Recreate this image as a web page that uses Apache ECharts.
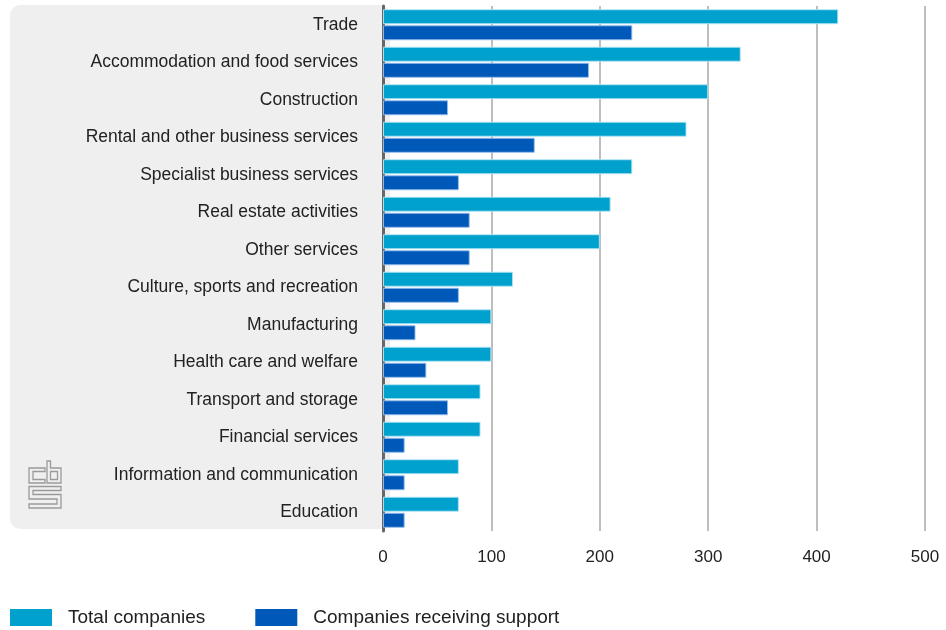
<!DOCTYPE html>
<html>
<head>
<meta charset="utf-8">
<script src="https://cdn.jsdelivr.net/npm/echarts@6/dist/echarts.min.js"></script>
<style>
  html, body { margin: 0; padding: 0; background: #ffffff; }
  #chart { width: 946px; height: 630px; }
</style>
</head>
<body>
<div id="chart"></div>
<script>
// Sectors, top to bottom
const categories = [
  'Trade',
  'Accommodation and food services',
  'Construction',
  'Rental and other business services',
  'Specialist business services',
  'Real estate activities',
  'Other services',
  'Culture, sports and recreation',
  'Manufacturing',
  'Health care and welfare',
  'Transport and storage',
  'Financial services',
  'Information and communication',
  'Education'
];
const totalCompanies = [420, 330, 300, 280, 230, 210, 200, 120, 100, 100, 90, 90, 70, 70];
const supportedCompanies = [230, 190, 60, 140, 70, 80, 80, 70, 30, 40, 60, 20, 20, 20];
const xTicks = [0, 100, 200, 300, 400, 500];

const FONT = '"Liberation Sans", Arial, sans-serif';
const CYAN = '#00a1cd';
const BLUE = '#0058b8';

const chart = echarts.init(document.getElementById('chart'), null, { renderer: 'canvas' });

// cbs logo drawn as outlined letter shapes
const logoStroke = { stroke: '#9a9a9a', lineWidth: 1.3, fill: null };
const logo = [
  // c
  { type: 'polygon', shape: { points: [[45, 468], [29, 468], [29, 483], [45, 483], [45, 479.5], [33, 479.5], [33, 471.5], [45, 471.5]] }, style: logoStroke },
  // b
  { type: 'polygon', shape: { points: [[47, 461], [50.5, 461], [50.5, 468], [61, 468], [61, 483], [47, 483]] }, style: logoStroke },
  { type: 'rect', shape: { x: 50.5, y: 471.5, width: 7, height: 8 }, style: logoStroke },
  // s
  { type: 'polygon', shape: { points: [[61, 486.5], [29, 486.5], [29, 499], [57, 499], [57, 504], [29, 504], [29, 508], [61, 508], [61, 494.5], [33, 494.5], [33, 490.5], [61, 490.5]] }, style: logoStroke }
];

chart.setOption({
  animation: false,
  textStyle: { fontFamily: FONT },
  graphic: [
    {
      type: 'rect',
      z: -10,
      shape: { x: 10, y: 5, width: 380, height: 524, r: 10 },
      style: { fill: '#efefef' },
      silent: true
    },
    { type: 'group', z: -5, children: logo, silent: true }
  ],
  grid: { left: 383, right: 21, top: 6, bottom: 99, containLabel: false },
  legend: {
    left: 10,
    bottom: 3,
    padding: 0,
    itemWidth: 42,
    itemHeight: 17,
    itemGap: 50,
    icon: 'rect',
    itemStyle: { borderWidth: 0 },
    textStyle: { fontFamily: FONT, fontSize: 19, color: '#222', padding: [0, 0, 0, 11] },
    data: ['Total companies', 'Companies receiving support']
  },
  xAxis: {
    type: 'value',
    min: 0,
    max: 500,
    interval: 100,
    axisLine: { show: false },
    axisTick: { show: false },
    axisLabel: {
      fontFamily: FONT, fontSize: 17, color: '#222', margin: 18,
      formatter: v => (xTicks.includes(v) ? String(v) : '')
    },
    splitLine: { show: true, lineStyle: { color: '#a8a8a8', width: 1.5 } }
  },
  yAxis: {
    type: 'category',
    inverse: true,
    data: categories,
    axisLine: { show: true, lineStyle: { color: '#666666', width: 3 } },
    axisTick: { show: false },
    axisLabel: { fontFamily: FONT, fontSize: 17.5, color: '#222', margin: 25 }
  },
  series: [
    {
      name: 'Total companies',
      type: 'bar',
      data: totalCompanies,
      barWidth: 15,
      barGap: '7%',
      itemStyle: { color: CYAN, borderColor: 'rgba(180,230,245,0.9)', borderWidth: 1 }
    },
    {
      name: 'Companies receiving support',
      type: 'bar',
      data: supportedCompanies,
      barWidth: 15,
      barGap: '7%',
      itemStyle: { color: BLUE, borderColor: 'rgba(150,190,235,0.9)', borderWidth: 1 }
    }
  ]
});
</script>
</body>
</html>
